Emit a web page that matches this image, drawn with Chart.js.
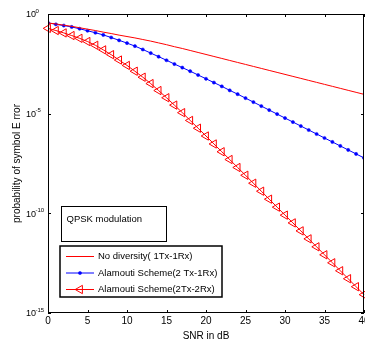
<!DOCTYPE html>
<html lang="en">
<head>
<meta charset="UTF-8">
<title>QPSK Alamouti symbol error</title>
<script src="https://cdn.jsdelivr.net/npm/chart.js@4.4.1/dist/chart.umd.min.js"></script>
<style>
  html, body { margin: 0; padding: 0; background: #fff; overflow: hidden; }
  #wrap { position: relative; width: 380px; height: 347px; }
</style>
</head>
<body>
<div id="wrap"><canvas id="ser-chart" width="380" height="347"></canvas></div>
<script>
// SNR points (dB), one per dB
const snrDb = [0,1,2,3,4,5,6,7,8,9,10,11,12,13,14,15,16,17,18,19,20,
               21,22,23,24,25,26,27,28,29,30,31,32,33,34,35,36,37,38,39,40];

// log10 of the symbol error probability
const noDiversityLog = [-0.45,-0.50,-0.56,-0.62,-0.69,-0.76,-0.83,-0.91,-0.98,-1.06,-1.13,
  -1.20,-1.28,-1.36,-1.45,-1.54,-1.64,-1.73,-1.83,-1.93,-2.03,
  -2.13,-2.23,-2.33,-2.43,-2.53,-2.63,-2.73,-2.83,-2.93,-3.03,
  -3.13,-3.23,-3.33,-3.43,-3.53,-3.63,-3.73,-3.83,-3.93,-4.03];
const alamouti2x1Log = [-0.44,-0.52,-0.58,-0.65,-0.74,-0.84,-0.94,-1.05,-1.18,-1.32,-1.46,
  -1.61,-1.78,-1.96,-2.14,-2.32,-2.51,-2.69,-2.87,-3.06,-3.25,
  -3.44,-3.63,-3.83,-4.02,-4.22,-4.42,-4.62,-4.82,-5.02,-5.22,
  -5.42,-5.62,-5.82,-6.02,-6.22,-6.42,-6.62,-6.82,-7.02,-7.22];
const alamouti2x2Log = [-0.72,-0.83,-0.95,-1.08,-1.22,-1.38,-1.57,-1.80,-2.04,-2.31,-2.58,
  -2.87,-3.17,-3.49,-3.84,-4.20,-4.57,-4.95,-5.34,-5.73,-6.12,
  -6.52,-6.91,-7.30,-7.70,-8.09,-8.49,-8.89,-9.29,-9.69,-10.09,
  -10.48,-10.88,-11.28,-11.68,-12.08,-12.48,-12.88,-13.28,-13.68,-14.08];

const xTickValues = [0,5,10,15,20,25,30,35,40];
const yTickExponents = [0,-5,-10,-15];
const seriesLabels = ['No diversity( 1Tx-1Rx)', 'Alamouti Scheme(2 Tx-1Rx)', 'Alamouti Scheme(2Tx-2Rx)'];
const noteText = 'QPSK modulation';

const FONT = '"Liberation Sans", Arial, sans-serif';

function toPoints(logs) {
  return snrDb.map((x, i) => ({ x: x, y: Math.pow(10, logs[i]) }));
}

// box, inward ticks, 10^n labels, note and legend - matlab look
const matlabFrame = {
  id: 'matlabFrame',
  afterDraw(chart) {
    const { ctx, chartArea: a, scales: { x, y } } = chart;
    ctx.save();
    ctx.strokeStyle = '#000';
    ctx.lineWidth = 1;
    ctx.strokeRect(a.left + 0.5, a.top + 0.5, a.right - a.left - 1, a.bottom - a.top - 1);

    ctx.beginPath();
    xTickValues.forEach(v => {
      const px = Math.round(x.getPixelForValue(v)) + 0.5;
      ctx.moveTo(px, a.bottom); ctx.lineTo(px, a.bottom - 3);
      ctx.moveTo(px, a.top); ctx.lineTo(px, a.top + 3);
    });
    yTickExponents.forEach(e => {
      const py = Math.round(y.getPixelForValue(Math.pow(10, e))) + 0.5;
      ctx.moveTo(a.left, py); ctx.lineTo(a.left + 3, py);
      ctx.moveTo(a.right, py); ctx.lineTo(a.right - 3, py);
    });
    ctx.stroke();

    // y tick labels as 10 with superscript
    ctx.fillStyle = '#000';
    ctx.textBaseline = 'middle';
    ctx.textAlign = 'left';
    yTickExponents.forEach(e => {
      const py = y.getPixelForValue(Math.pow(10, e));
      ctx.font = '9px ' + FONT;
      ctx.fillText('10', 26, py + 1);
      ctx.font = '6px ' + FONT;
      ctx.fillText(String(e), 35.5, py - 3);
    });

    // annotation box
    ctx.fillStyle = '#fff';
    ctx.fillRect(61, 206, 105, 35);
    ctx.strokeRect(61.5, 206.5, 105, 35);
    ctx.fillStyle = '#000';
    ctx.font = '9.5px ' + FONT;
    ctx.fillText(noteText, 66.5, 219);

    // legend
    ctx.fillStyle = '#fff';
    ctx.fillRect(60, 246, 162, 51);
    ctx.lineWidth = 1.5;
    ctx.strokeRect(60, 246, 162, 51);
    const rows = [256.5, 273, 289.5];
    chart.data.datasets.forEach((ds, i) => {
      const ry = rows[i];
      ctx.strokeStyle = ds.borderColor;
      ctx.lineWidth = 1;
      ctx.beginPath();
      ctx.moveTo(66, ry); ctx.lineTo(94, ry);
      ctx.stroke();
      if (ds.pointRadius > 0) {
        ctx.fillStyle = ds.pointBackgroundColor;
        ctx.strokeStyle = ds.borderColor;
        ctx.lineWidth = ds.pointBorderWidth || 1;
        Chart.helpers.drawPoint(ctx, {
          pointStyle: ds.pointStyle,
          rotation: ds.pointRotation || 0,
          radius: ds.pointRadius,
          borderWidth: ds.pointBorderWidth || 1
        }, 80, ry);
      }
      ctx.fillStyle = '#000';
      ctx.font = '9.5px ' + FONT;
      ctx.fillText(seriesLabels[i], 98, ry);
    });
    ctx.restore();
  }
};

new Chart(document.getElementById('ser-chart'), {
  type: 'line',
  data: {
    datasets: [
      {
        label: seriesLabels[0],
        data: toPoints(noDiversityLog),
        borderColor: '#ff0000',
        backgroundColor: '#ff0000',
        borderWidth: 1,
        pointRadius: 0,
        tension: 0
      },
      {
        label: seriesLabels[1],
        data: toPoints(alamouti2x1Log),
        borderColor: '#0000ff',
        backgroundColor: '#0000ff',
        pointBackgroundColor: '#0000ff',
        borderWidth: 1,
        pointStyle: 'circle',
        pointRadius: 1.6,
        pointBorderWidth: 0.5,
        tension: 0
      },
      {
        label: seriesLabels[2],
        data: toPoints(alamouti2x2Log),
        borderColor: '#ff0000',
        backgroundColor: 'rgba(0,0,0,0)',
        pointBackgroundColor: 'rgba(0,0,0,0)',
        borderWidth: 1,
        pointStyle: 'triangle',
        pointRotation: -90,
        pointRadius: 4.8,
        pointBorderWidth: 1,
        tension: 0,
        clip: false
      }
    ]
  },
  options: {
    responsive: false,
    devicePixelRatio: 1,
    animation: false,
    events: [],
    layout: { padding: { top: 14, right: 16, left: 0, bottom: 0 } },
    plugins: { legend: { display: false }, tooltip: { enabled: false } },
    scales: {
      x: {
        type: 'linear',
        min: 0,
        max: 40,
        grid: { display: false, drawTicks: false },
        border: { display: false },
        afterBuildTicks: s => { s.ticks = xTickValues.map(v => ({ value: v })); },
        afterFit: s => { s.height = 34; },
        ticks: { color: '#000', padding: 2, maxRotation: 0, font: { family: FONT, size: 10 } },
        title: {
          display: true,
          text: 'SNR in dB',
          color: '#000',
          font: { family: FONT, size: 10 },
          padding: { top: 0, bottom: 5 }
        }
      },
      y: {
        type: 'logarithmic',
        min: 1e-15,
        max: 1,
        grid: { display: false, drawTicks: false },
        border: { display: false },
        afterBuildTicks: s => { s.ticks = yTickExponents.map(e => ({ value: Math.pow(10, e) })); },
        afterFit: s => { s.width = 48; },
        ticks: { display: false },
        title: {
          display: true,
          text: 'probability of symbol E rror',
          color: '#000',
          font: { family: FONT, size: 10 },
          padding: { top: 11, bottom: 0 }
        }
      }
    }
  },
  plugins: [matlabFrame]
});
</script>
</body>
</html>
